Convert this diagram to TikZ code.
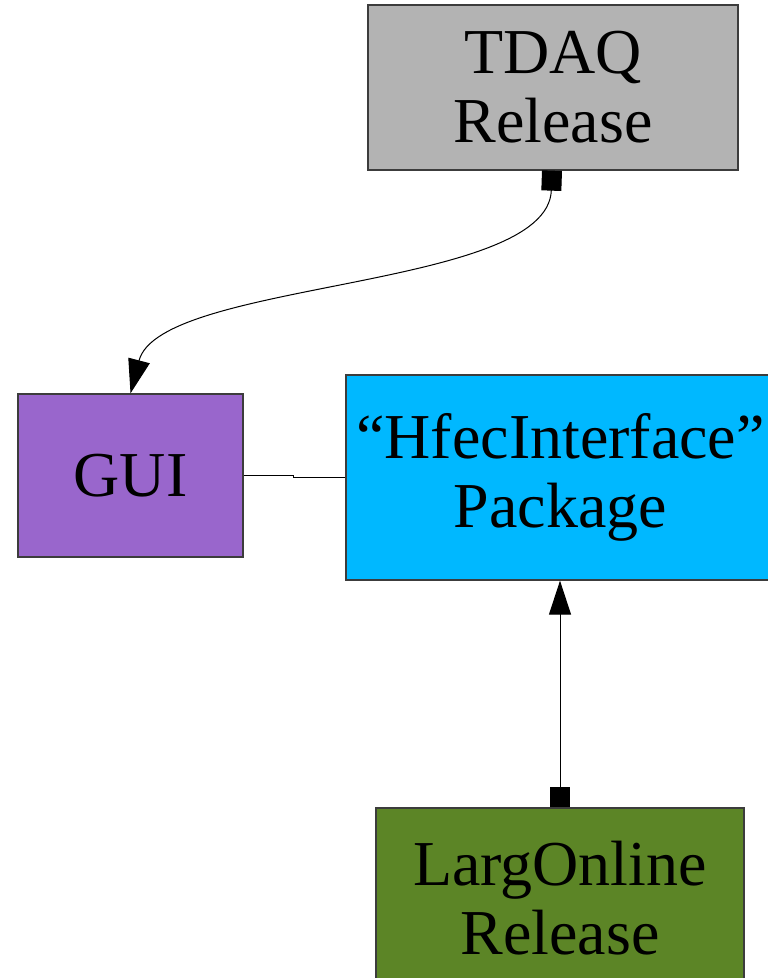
\documentclass[tikz,border=0pt]{standalone}
\usepackage{fontspec}
\setmainfont{Liberation Serif}
\usetikzlibrary{arrows.meta, positioning, calc}
\definecolor{tdaqgray}{HTML}{B3B3B3}
\definecolor{guipurple}{HTML}{9966CC}
\definecolor{pkgblue}{HTML}{00B8FF}
\definecolor{larggreen}{HTML}{5C8526}
\definecolor{edgegray}{HTML}{3C3C3C}
\tikzset{
    block/.style={rectangle, draw=edgegray, line width=1.3pt, align=center, inner sep=0pt,
        font=\fontsize{64}{69}\selectfont},
    block_gray/.style={block, fill=tdaqgray},
    block_purple/.style={block, fill=guipurple},
    block_blue/.style={block, fill=pkgblue},
    block_green/.style={block, fill=larggreen},
    link/.style={line width=1pt, black},
    arrow/.style={link, {Square[length=20pt,width=20pt]}-{Triangle[length=34pt,width=22pt]}}
}
\begin{document}
\begin{tikzpicture}[x=1pt, y=-1pt]
    \useasboundingbox (0,0) rectangle (768,978);
    \node (tdaq) [block_gray, minimum width=370pt, minimum height=165pt] at (553,87.5) {TDAQ\\Release};
    \node (gui) [block_purple, minimum width=225pt, minimum height=163pt] at (130.5,475.5) {GUI};
    \node (pkg) [block_blue, minimum width=429pt, minimum height=205pt] at (560.5,477.5) {“HfecInterface”\\Package};
    \node (larg) [block_green, minimum width=368pt, minimum height=180pt] at (560,898) {LargOnline\\Release};

    \draw [arrow] ([xshift=-1pt]tdaq.south) .. controls (548,290) and (160,280) .. (gui.north);
    \draw [link] (gui.east) -- ++(50,0) |- (pkg.west);
    \draw [arrow] (larg.north) -- (larg.north |- pkg.south);
\end{tikzpicture}
\end{document}
